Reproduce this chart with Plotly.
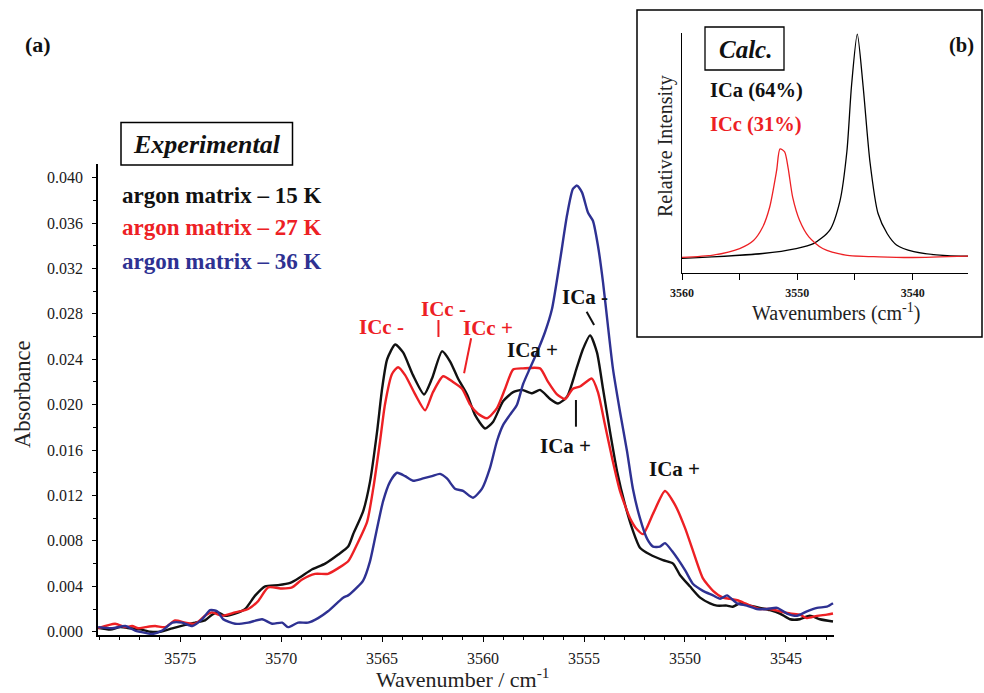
import plotly.graph_objects as go

# ---------------- data ----------------
wn_15K = [3579.06, 3578.46, 3577.97, 3577.47, 3576.98, 3576.48, 3575.99, 3575.39, 3574.75, 3574.26,
          3573.77, 3573.42, 3573.12, 3572.78, 3572.28, 3571.78, 3571.28, 3570.79, 3570.15, 3569.55,
          3569.06, 3568.46, 3567.82, 3567.17, 3566.68, 3566.43, 3565.94, 3565.60, 3565.25, 3565.00,
          3564.75, 3564.35, 3563.96, 3563.47, 3562.92, 3562.53, 3562.03, 3561.63, 3561.24, 3560.79,
          3560.40, 3559.90, 3559.50, 3559.01, 3558.51, 3558.07, 3557.57, 3557.18, 3556.68, 3556.29,
          3555.84, 3555.35, 3555.05, 3554.70, 3554.36, 3554.06, 3553.71, 3553.36, 3552.97, 3552.58,
          3552.23, 3551.73, 3551.09, 3550.59, 3550.25, 3549.76, 3549.25, 3548.76, 3548.42, 3547.92,
          3547.63, 3547.28, 3546.78, 3546.29, 3545.79, 3545.30, 3544.80, 3544.31, 3543.81, 3543.32,
          3542.67]
abs_15K = [0.00035, 0.0002, 0.0004, 0.0003, 0.0002, 0.0000, 0.0000, 0.0003, 0.0006, 0.0008,
           0.0010, 0.0015, 0.0017, 0.0014, 0.0016, 0.0020, 0.0032, 0.0040, 0.0041, 0.0043,
           0.0048, 0.0055, 0.0060, 0.0068, 0.0075, 0.0086, 0.0106, 0.0132, 0.0176, 0.0214,
           0.0240, 0.0253, 0.0246, 0.0226, 0.0209, 0.0223, 0.0247, 0.0238, 0.0223, 0.0209,
           0.0191, 0.0179, 0.0185, 0.0203, 0.0211, 0.0213, 0.0210, 0.0213, 0.0205, 0.0201,
           0.0207, 0.0233, 0.0249, 0.0261, 0.0246, 0.0214, 0.0176, 0.0141, 0.0112, 0.0089,
           0.0074, 0.0068, 0.0063, 0.0060, 0.0050, 0.0040, 0.0030, 0.0025, 0.0023, 0.0023,
           0.0022, 0.0025, 0.0023, 0.0021, 0.0019, 0.0016, 0.0011, 0.0011, 0.0014, 0.0011,
           0.0009]

wn_27K = [3579.06, 3578.22, 3577.72, 3577.38, 3577.08, 3576.73, 3576.24, 3575.74, 3575.25, 3574.75,
          3574.26, 3573.77, 3573.42, 3572.92, 3572.28, 3571.63, 3571.14, 3570.64, 3569.95, 3569.46,
          3568.96, 3568.32, 3567.68, 3567.17, 3566.68, 3566.24, 3565.74, 3565.44, 3565.10, 3564.86,
          3564.51, 3564.21, 3563.86, 3563.36, 3562.87, 3562.48, 3561.98, 3561.49, 3561.04, 3560.64,
          3560.25, 3559.80, 3559.31, 3558.91, 3558.51, 3558.02, 3557.18, 3556.78, 3556.34, 3555.94,
          3555.55, 3555.20, 3554.61, 3554.31, 3553.96, 3553.61, 3553.22, 3552.72, 3552.37, 3552.07,
          3551.58, 3550.99, 3550.50, 3549.99, 3549.60, 3549.11, 3548.61, 3548.12, 3547.77, 3547.28,
          3546.78, 3546.29, 3545.79, 3545.30, 3544.80, 3544.31, 3543.96, 3543.46, 3542.97, 3542.67]
abs_27K = [0.0003, 0.0007, 0.0004, 0.0005, 0.0003, 0.0004, 0.0005, 0.0004, 0.0010, 0.0008,
           0.0007, 0.0014, 0.0017, 0.0014, 0.0017, 0.0020, 0.0027, 0.0039, 0.0038, 0.0039,
           0.0046, 0.0051, 0.0051, 0.0056, 0.0062, 0.0077, 0.0097, 0.0126, 0.0168, 0.0200,
           0.0227, 0.0233, 0.0226, 0.0209, 0.0195, 0.0211, 0.0225, 0.0220, 0.0214, 0.0200,
           0.0192, 0.0188, 0.0197, 0.0214, 0.0231, 0.0232, 0.0232, 0.0220, 0.0209, 0.0205,
           0.0214, 0.0216, 0.0223, 0.0211, 0.0182, 0.0153, 0.0124, 0.0100, 0.0090, 0.0086,
           0.0104, 0.0124, 0.0112, 0.0091, 0.0071, 0.0047, 0.0036, 0.0030, 0.0029, 0.0027,
           0.0023, 0.0020, 0.0020, 0.0018, 0.0016, 0.0015, 0.0012, 0.0014, 0.0015, 0.0016]

wn_36K = [3579.06, 3578.37, 3577.72, 3577.23, 3576.73, 3576.38, 3575.89, 3575.39, 3574.90, 3574.40,
          3573.91, 3573.52, 3573.17, 3572.87, 3572.28, 3571.63, 3570.94, 3570.45, 3569.95, 3569.66,
          3569.16, 3568.67, 3568.17, 3567.68, 3566.93, 3566.68, 3566.24, 3565.94, 3565.60, 3565.25,
          3564.95, 3564.61, 3564.26, 3563.86, 3563.47, 3562.97, 3562.53, 3562.13, 3561.79, 3561.39,
          3560.99, 3560.50, 3560.05, 3559.66, 3559.31, 3559.01, 3558.67, 3558.32, 3558.02, 3557.68,
          3557.33, 3556.93, 3556.59, 3556.18, 3555.84, 3555.55, 3555.35, 3555.10, 3554.80, 3554.56,
          3554.31, 3554.06, 3553.82, 3553.57, 3553.22, 3552.87, 3552.58, 3552.23, 3551.88, 3551.58,
          3551.24, 3550.99, 3550.64, 3549.99, 3549.60, 3549.11, 3548.61, 3548.26, 3547.92, 3547.43,
          3546.94, 3546.44, 3545.94, 3545.44, 3544.95, 3544.45, 3543.96, 3543.46, 3542.97, 3542.67]
abs_36K = [0.0004, 0.0003, 0.0005, 0.0001, -0.0001, -0.0002, 0.0001, 0.0008, 0.0008, 0.0005,
           0.0011, 0.0019, 0.0018, 0.0011, 0.0007, 0.0008, 0.0011, 0.0007, 0.0008, 0.0004,
           0.0008, 0.0008, 0.0012, 0.0018, 0.0030, 0.0032, 0.0039, 0.0045, 0.0062, 0.0091,
           0.0115, 0.0132, 0.0140, 0.0137, 0.0133, 0.0135, 0.0137, 0.0139, 0.0135, 0.0126,
           0.0124, 0.0118, 0.0126, 0.0144, 0.0168, 0.0182, 0.0191, 0.0200, 0.0218, 0.0232,
           0.0246, 0.0264, 0.0284, 0.0328, 0.0367, 0.0390, 0.0393, 0.0387, 0.0369, 0.0362,
           0.0340, 0.0308, 0.0270, 0.0232, 0.0194, 0.0159, 0.0126, 0.0100, 0.0082, 0.0075,
           0.0075, 0.0078, 0.0071, 0.0054, 0.0042, 0.0036, 0.0032, 0.0029, 0.0032, 0.0025,
           0.0023, 0.0020, 0.0020, 0.0021, 0.0016, 0.0014, 0.0018, 0.0021, 0.0022, 0.0025]

# inset (calculated spectra, relative intensity)
calc_wn_ICa = [3560.0, 3553.0, 3550.1, 3548.6, 3547.2, 3546.3, 3545.7, 3545.3, 3544.8, 3544.3,
               3543.7, 3543.0, 3542.2, 3541.4, 3539.9, 3537.0, 3535.2]
calc_I_ICa = [0.0, 0.022, 0.044, 0.066, 0.125, 0.257, 0.478, 0.77, 1.0, 0.77,
              0.43, 0.20, 0.11, 0.06, 0.03, 0.012, 0.01]
calc_wn_ICc = [3560.0, 3557.3, 3555.0, 3553.8, 3553.0, 3552.4, 3551.8, 3551.5, 3551.1, 3550.8,
               3550.4, 3549.8, 3549.0, 3547.8, 3545.8, 3542.9, 3540.0, 3535.2]
calc_I_ICc = [0.005, 0.015, 0.044, 0.08, 0.14, 0.228, 0.39, 0.488, 0.475, 0.404,
              0.272, 0.169, 0.096, 0.044, 0.015, 0.007, 0.004, 0.01]

series_names = ["argon matrix \u2013 15 K", "argon matrix \u2013 27 K", "argon matrix \u2013 36 K"]
x_ticks_main = [3575, 3570, 3565, 3560, 3555, 3550, 3545]
y_ticks_main = [0.000, 0.004, 0.008, 0.012, 0.016, 0.020, 0.024, 0.028, 0.032, 0.036, 0.040]
x_ticks_inset = [3560, 3550, 3540]

BLACK = "#111111"
RED = "#ed2024"
BLUE = "#2e3192"
SERIF = "Liberation Serif, Times New Roman, serif"

W, H = 984, 693
def px(x):
    return x / W
def py(y):
    return 1 - y / H

fig = go.Figure()
for wn, ab, col, name in [(wn_15K, abs_15K, BLACK, series_names[0]),
                          (wn_27K, abs_27K, RED, series_names[1]),
                          (wn_36K, abs_36K, BLUE, series_names[2])]:
    fig.add_trace(go.Scatter(x=wn, y=ab, mode="lines", name=name,
                             line=dict(color=col, width=2.4, shape="spline", smoothing=0.6),
                             xaxis="x", yaxis="y", showlegend=False))

fig.add_trace(go.Scatter(x=calc_wn_ICa, y=calc_I_ICa, mode="lines", name="ICa (64%)",
                         line=dict(color="#000000", width=1.3, shape="spline", smoothing=0.7),
                         xaxis="x2", yaxis="y2", showlegend=False))
fig.add_trace(go.Scatter(x=calc_wn_ICc, y=calc_I_ICc, mode="lines", name="ICc (31%)",
                         line=dict(color=RED, width=1.3, shape="spline", smoothing=0.7),
                         xaxis="x2", yaxis="y2", showlegend=False))

tickfont = dict(family=SERIF, size=16, color="#1a1a1a")

fig.update_layout(
    template="none",
    width=W, height=H,
    margin=dict(l=0, r=0, t=0, b=0, autoexpand=False),
    paper_bgcolor="white", plot_bgcolor="white",
    xaxis=dict(domain=[px(98), px(834)], range=[3579.07, 3542.62], anchor="y",
               tickvals=x_ticks_main, showgrid=False, zeroline=False, automargin=False,
               showline=True, linecolor="black", linewidth=1.5,
               ticks="outside", ticklen=5, tickwidth=1.2, tickcolor="black",
               ticklabelstandoff=3,
               minor=dict(dtick=1, tick0=3545, ticks="outside", ticklen=3, tickcolor="black", tickwidth=1),
               tickfont=tickfont),
    yaxis=dict(domain=[py(635), py(164)], range=[-0.00029, 0.0412], anchor="x",
               tickvals=y_ticks_main, tickformat=".3f", showgrid=False, zeroline=False, automargin=False,
               showline=True, linecolor="black", linewidth=1.5,
               ticks="outside", ticklen=4, tickwidth=1.2, tickcolor="black",
               ticklabelstandoff=6,
               minor=dict(dtick=0.002, tick0=0, ticks="outside", ticklen=3, tickcolor="black", tickwidth=1),
               tickfont=tickfont),
    xaxis2=dict(domain=[px(682), px(968)], range=[3560, 3535.2], anchor="y2",
                tickvals=x_ticks_inset, showgrid=False, zeroline=False, automargin=False,
                showline=True, linecolor="black", linewidth=1.3,
                ticks="outside", ticklen=6, tickwidth=1, tickcolor="black",
                ticklabelstandoff=2,
                minor=dict(dtick=5, tick0=3535, ticks="outside", ticklen=6, tickcolor="black", tickwidth=1),
                tickfont=dict(family=SERIF, size=12, color="#1a1a1a", weight="bold")),
    yaxis2=dict(domain=[py(273), py(33)], range=[-0.065, 1.005], anchor="x2", automargin=False,
                showgrid=False, zeroline=False, showticklabels=False, ticks="",
                showline=True, linecolor="black", linewidth=1.3),
)

shapes = [
    # inset frame
    dict(type="rect", xref="paper", yref="paper", x0=px(637), x1=px(982), y0=py(337), y1=py(10),
         line=dict(color="black", width=1.5), fillcolor="white", layer="below"),
    # Experimental box
    dict(type="rect", xref="paper", yref="paper", x0=px(121), x1=px(292.5), y0=py(165), y1=py(122.5),
         line=dict(color="black", width=1.5)),
    # Calc. box
    dict(type="rect", xref="paper", yref="paper", x0=px(705), x1=px(784), y0=py(70), y1=py(27),
         line=dict(color="black", width=1.3)),
    # marker lines in data coordinates
    dict(type="line", xref="x", yref="y", x0=3562.21, x1=3562.21, y0=0.02596, y1=0.02746,
         line=dict(color=RED, width=2)),
    dict(type="line", xref="x", yref="y", x0=3560.59, x1=3560.94, y0=0.02585, y1=0.02277,
         line=dict(color=RED, width=2)),
    dict(type="line", xref="x", yref="y", x0=3554.87, x1=3554.50, y0=0.02819, y1=0.02702,
         line=dict(color=BLACK, width=2)),
    dict(type="line", xref="x", yref="y", x0=3555.40, x1=3555.40, y0=0.01806, y1=0.02041,
         line=dict(color=BLACK, width=2)),
]
fig.update_layout(shapes=shapes)

ann = []
def txt(text, x, y, size, color="#111111", bold=True, italic=False, xanchor="center",
        xref="paper", yref="paper", angle=0):
    t = text
    if bold:
        t = "<b>" + t + "</b>"
    if italic:
        t = "<i>" + t + "</i>"
    ann.append(dict(text=t, x=x, y=y, xref=xref, yref=yref, showarrow=False,
                    xanchor=xanchor, yanchor="middle", textangle=angle,
                    font=dict(family=SERIF, size=size, color=color)))

# panel labels & boxes
txt("(a)", px(38), py(44), 22)
txt("(b)", px(961), py(45), 20.5)
txt("Experimental", px(206.5), py(144), 26, italic=True)
txt("Calc.", px(745), py(49), 25, italic=True)
# series labels
txt(series_names[0], px(120), py(195), 23, color=BLACK, xanchor="left")
txt(series_names[1], px(120), py(228), 23, color=RED, xanchor="left")
txt(series_names[2], px(120), py(262), 23, color=BLUE, xanchor="left")
# inset labels
txt("ICa (64%)", px(708), py(90), 20.5, color=BLACK, xanchor="left")
txt("ICc (31%)", px(708), py(124), 20.5, color=RED, xanchor="left")
# peak assignments (data coordinates)
txt("ICc -", 3565.01, 0.0268, 21, color=RED, xref="x", yref="y")
txt("ICc -", 3561.97, 0.02843, 21, color=RED, xref="x", yref="y")
txt("ICc +", 3559.78, 0.02671, 21, color=RED, xref="x", yref="y")
txt("ICa +", 3557.57, 0.02485, 21, color=BLACK, xref="x", yref="y")
txt("ICa -", 3554.97, 0.02952, 21, color=BLACK, xref="x", yref="y")
txt("ICa +", 3555.94, 0.01634, 21, color=BLACK, xref="x", yref="y")
txt("ICa +", 3550.53, 0.01429, 21, color=BLACK, xref="x", yref="y")
# axis titles
txt("Absorbance", px(22), py(395), 22.5, color="#222222", bold=False, angle=-90)
txt("Wavenumber / cm<sup>-1</sup>", px(463), py(678), 22, color="#222222", bold=False)
txt("Relative Intensity", px(665), py(146), 20, color="#222222", bold=False, angle=-90)
txt("Wavenumbers (cm<sup>-1</sup>)", px(836), py(312), 20, color="#222222", bold=False)

fig.update_layout(annotations=ann)

fig.write_html("out.html",
               config={"displayModeBar": False},
               post_script="document.body.style.margin='0';document.body.style.overflow='hidden';")
